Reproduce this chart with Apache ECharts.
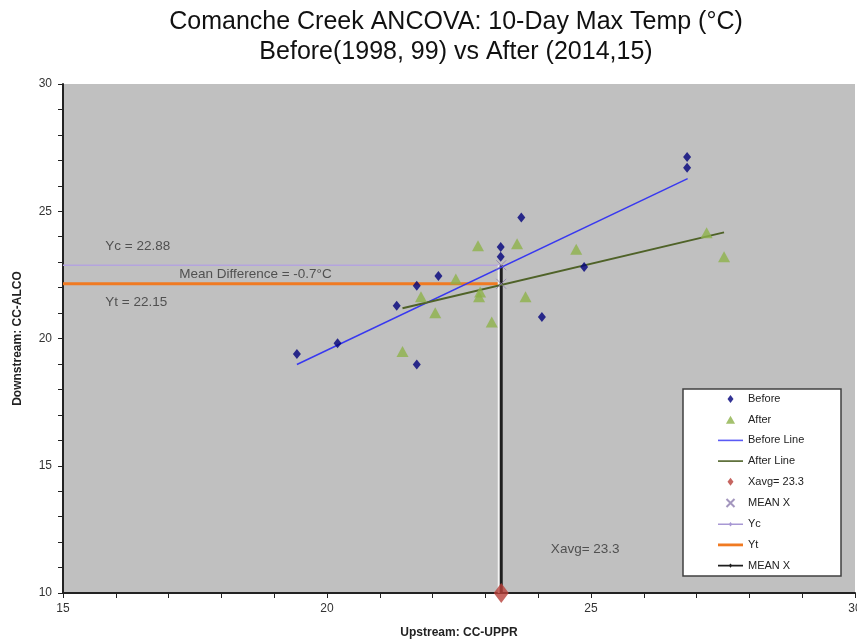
<!DOCTYPE html>
<html><head><meta charset="utf-8">
<script src="https://cdn.jsdelivr.net/npm/echarts@6/dist/echarts.min.js"></script>
<style>html,body{margin:0;padding:0;background:#fff}#c{width:857px;height:643px}</style>
</head><body><div id="c"></div>
<script>
const titleLines = ['Comanche Creek ANCOVA: 10-Day Max Temp (°C)', 'Before(1998, 99) vs After (2014,15)'];
const beforeX = [19.43, 20.20, 21.32, 21.70, 22.11, 21.70, 23.29, 23.29, 23.68, 24.07, 24.87, 26.82, 26.82];
const beforeY = [19.39, 19.81, 21.29, 22.07, 22.46, 18.98, 23.60, 23.21, 24.75, 20.84, 22.81, 27.13, 26.71];
const afterX = [22.86, 23.60, 24.72, 27.19, 27.52, 22.44, 21.78, 22.05, 22.90, 22.88, 23.76, 23.12, 21.43];
const afterY = [23.64, 23.72, 23.51, 24.16, 23.21, 22.34, 21.64, 21.01, 21.83, 21.64, 21.64, 20.65, 19.49];
const beforeLineX = [19.43, 26.83];
const beforeLineY = [18.98, 26.28];
const afterLineX = [21.43, 27.52];
const afterLineY = [21.19, 24.17];
const xAvg = 23.3;
const yC = 22.88;
const yT = 22.15;
const xMin = 15, xMax = 30, yMin = 10, yMax = 30;
const annotTexts = ['Yc = 22.88', 'Mean Difference = -0.7°C', 'Yt = 22.15', 'Xavg= 23.3'];
const annotX = [15.8, 17.2, 15.8, 24.24];
const annotY = [23.63, 22.53, 21.43, 11.73];
const legendNames = ['Before', 'After', 'Before Line', 'After Line', 'Xavg= 23.3', 'MEAN X', 'Yc', 'Yt', 'MEAN X '];

const icons = {
  diamond: 'path://M3,0L6,4L3,8L0,4Z',
  triangle: 'path://M4,0L8,7L0,7Z',
  cross: 'path://M0,0L7,7M7,0L0,7',
  mid: 'path://M0,3.2L25,3.2L25,4.8L0,4.8Z',
  thick: 'path://M0,2.6L25,2.6L25,5.4L0,5.4Z',
  marked: 'path://M0,3.2L25,3.2L25,4.8L0,4.8Z M12.5,1.8L14.4,4L12.5,6.2L10.6,4Z'
};
const legendIcons = [icons.diamond, icons.triangle, icons.mid, icons.mid, icons.diamond, icons.cross, icons.marked, icons.thick, icons.marked];

const zip = (a, b) => a.map((v, i) => [v, b[i]]);
const chart = echarts.init(document.getElementById('c'), null, {renderer: 'canvas'});
const font = '"Liberation Sans", Arial, sans-serif';
const option = {
  animation: false,
  backgroundColor: '#ffffff',
  textStyle: {fontFamily: font},
  graphic: [
    {type: 'text', x: 456, y: 22, style: {text: titleLines[0], font: '25px ' + font, fill: '#111', align: 'center', verticalAlign: 'middle'}, z: 10},
    {type: 'text', x: 456, y: 52, style: {text: titleLines[1], font: '25px ' + font, fill: '#111', align: 'center', verticalAlign: 'middle'}, z: 10},
    {type: 'rect', shape: {x: 683, y: 389, width: 158, height: 187}, style: {fill: '#fff', stroke: '#404040', lineWidth: 1.5}, z: 50}
  ],
  grid: {left: 63, right: 2, top: 84, bottom: 50, show: true, backgroundColor: '#c0c0c0', borderWidth: 0, containLabel: false, outerBoundsMode: 'none'},
  legend: {
    data: legendNames.map((n, i) => ({name: n, icon: legendIcons[i]})),
    orient: 'vertical', left: 718, top: 393, padding: 0, symbolKeepAspect: true,
    itemWidth: 25, itemHeight: 8, itemGap: 8.7, selectedMode: false, z: 60,
    textStyle: {fontSize: 11, color: '#222', lineHeight: 12, fontFamily: '"Liberation Sans Narrow", "Liberation Sans", Arial'}
  },
  xAxis: {
    type: 'value', min: xMin, max: xMax, interval: 5,
    name: 'Upstream: CC-UPPR', nameLocation: 'middle', nameGap: 34,
    nameTextStyle: {fontSize: 12, fontWeight: 'bold', color: '#222'},
    axisLine: {show: true, onZero: false, lineStyle: {color: '#222', width: 2}},
    axisTick: {show: true, length: 5, lineStyle: {color: '#222', width: 1}},
    minorTick: {show: true, splitNumber: 5, length: 5, lineStyle: {color: '#222', width: 1}},
    splitLine: {show: false}, minorSplitLine: {show: false},
    axisLabel: {fontSize: 12, color: '#333', margin: 10}
  },
  yAxis: {
    type: 'value', min: yMin, max: yMax, interval: 5,
    name: 'Downstream: CC-ALCO', nameLocation: 'middle', nameGap: 39, nameRotate: 90,
    nameTextStyle: {fontSize: 12, fontWeight: 'bold', color: '#222'},
    axisLine: {show: true, onZero: false, lineStyle: {color: '#222', width: 2}},
    axisTick: {show: true, length: 5, lineStyle: {color: '#222', width: 1}},
    minorTick: {show: true, splitNumber: 5, length: 5, lineStyle: {color: '#222', width: 1}},
    splitLine: {show: false}, minorSplitLine: {show: false},
    axisLabel: {fontSize: 12, color: '#333', margin: 11}
  },
  series: [
    {name: 'Yc', type: 'line', data: [[xMin, yC], [xAvg, yC]], symbol: 'none', lineStyle: {color: '#b4a4de', width: 1.5}, itemStyle: {color: '#a898d4'}, z: 2},
    {name: 'Yt', type: 'line', data: [[xMin, yT], [xAvg, yT]], symbol: 'none', lineStyle: {color: '#f07a22', width: 3}, itemStyle: {color: '#f07a22'}, z: 2},
    {name: 'MEAN X ', type: 'line', data: [[xAvg, yMin], [xAvg, yC]], symbol: 'none', lineStyle: {color: '#1e1e1e', width: 3, shadowColor: '#f4f4f4', shadowOffsetX: -2, shadowBlur: 0}, itemStyle: {color: '#1e1e1e'}, z: 2},
    {name: 'Before Line', type: 'line', data: zip(beforeLineX, beforeLineY), symbol: 'none', lineStyle: {color: '#3838f0', width: 1.5}, itemStyle: {color: '#5a5af5'}, z: 3},
    {name: 'After Line', type: 'line', data: zip(afterLineX, afterLineY), symbol: 'none', lineStyle: {color: '#4f6228', width: 2}, itemStyle: {color: '#4f6228'}, z: 3},
    {name: 'After', type: 'scatter', data: zip(afterX, afterY), symbol: 'triangle', symbolSize: [12, 11], itemStyle: {color: '#8db24a'}, z: 4},
    {name: 'Before', type: 'scatter', data: zip(beforeX, beforeY), symbol: 'diamond', symbolSize: [8, 10], itemStyle: {color: '#00007a'}, z: 5},
    {name: 'MEAN X', type: 'scatter', data: [[xAvg, yC], [xAvg, yT]], symbol: 'path://M0,0L10,10M10,0L0,10', symbolSize: 10, itemStyle: {color: 'none', borderColor: '#8c7cae', borderWidth: 1}, z: 6},
    {name: 'Xavg= 23.3', type: 'scatter', data: [[xAvg, yMin]], symbol: 'diamond', symbolSize: [15, 20], clip: false, itemStyle: {color: '#b8403a'}, z: 7},
    {name: 'annot', type: 'scatter', data: annotX.map((x, i) => ({value: [x, annotY[i]], name: annotTexts[i]})), symbolSize: 0, silent: true, z: 8,
      label: {show: true, position: [0, 0], align: 'left', verticalAlign: 'middle', formatter: p => p.name, fontSize: 13.5, color: '#333'}}
  ]
};
chart.setOption(option);
</script></body></html>
